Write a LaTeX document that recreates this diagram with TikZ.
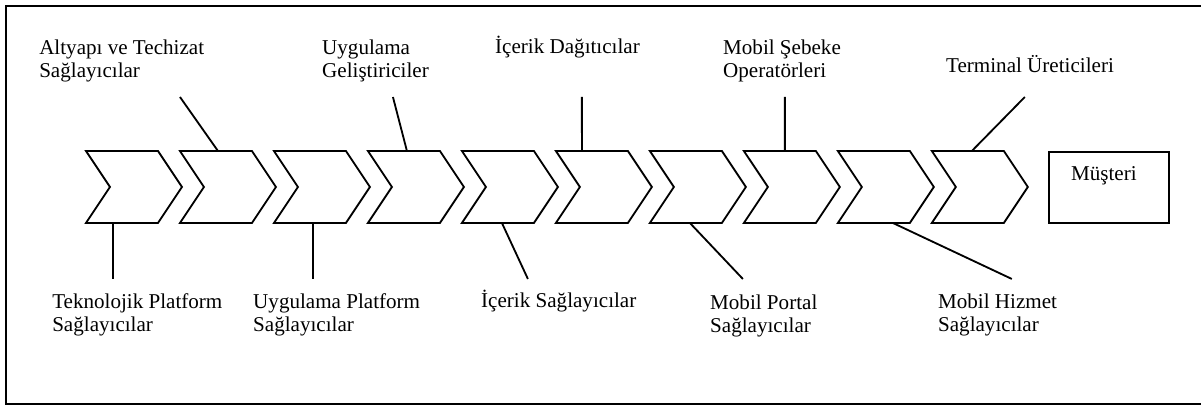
\documentclass[tikz,border=0pt]{standalone}
\usepackage{fontspec}
\setmainfont{Liberation Serif}
\tikzset{
  chevron/.style={line width=1.3pt, line join=miter},
  link/.style={line width=1.3pt},
  lbl/.style={anchor=base west, align=left, inner sep=0pt, font=\fontsize{15}{16.4}\selectfont},
}

\begin{document}
\begin{tikzpicture}
\useasboundingbox (0,0) rectangle (30.03,-10.15);
% frame, open on the right
\draw[line width=1.3pt] (30.03,-0.15) -- (0.15,-0.15) -- (0.15,-10.1) -- (30.03,-10.1);

% chain of chevrons
\foreach \i in {1,...,10}
  \draw[chevron] ({2.15+2.35*(\i-1)},-3.775) coordinate (chv\i) -- ++(1.8,0) -- ++(0.6,-0.9)
    -- ++(-0.6,-0.9) -- ++(-1.8,0) -- ++(0.6,0.9) -- cycle;

\node[draw, line width=1.3pt, minimum width=3cm, minimum height=1.775cm] (musteri) at (27.725,-4.69) {};
\node[lbl] (musteri-txt) at (26.775,-4.525) {Müşteri};

% labels above (base = last line)
\node[lbl] (altyapi) at (0.975,-1.95) {Altyapı ve Techizat\\Sağlayıcılar};
\node[lbl] (gelistirici) at (8.05,-1.95) {Uygulama\\Geliştiriciler};
\node[lbl] (dagitici) at (12.375,-1.35) {İçerik Dağıtıcılar};
\node[lbl] (sebeke) at (18.075,-1.95) {Mobil Şebeke\\Operatörleri};
\node[lbl] (terminal) at (23.65,-1.825) {Terminal Üreticileri};

% labels below
\node[lbl] (teknoloji) at (1.3,-8.3) {Teknolojik Platform\\Sağlayıcılar};
\node[lbl] (platform) at (6.325,-8.3) {Uygulama Platform\\Sağlayıcılar};
\node[lbl] (icerik) at (12.025,-7.7) {İçerik Sağlayıcılar};
\node[lbl] (portal) at (17.75,-8.325) {Mobil Portal\\Sağlayıcılar};
\node[lbl] (hizmet) at (23.45,-8.3) {Mobil Hizmet\\Sağlayıcılar};

% free ends of the lines
\coordinate (altyapi-end) at (4.5,-2.425);
\coordinate (gelistirici-end) at (9.825,-2.425);
\coordinate (dagitici-end) at (14.55,-2.425);
\coordinate (sebeke-end) at (19.625,-2.425);
\coordinate (terminal-end) at (25.625,-2.425);
\coordinate (teknoloji-end) at (2.825,-6.975);
\coordinate (platform-end) at (7.825,-6.975);
\coordinate (icerik-end) at (13.2,-6.975);
\coordinate (portal-end) at (18.575,-6.975);
\coordinate (hizmet-end) at (25.3,-6.975);

\draw[link] (altyapi-end) -- ([xshift=0.95cm]chv2);
\draw[link] (gelistirici-end) -- ([xshift=0.975cm]chv4);
\draw[link] (dagitici-end) -- ([xshift=0.65cm]chv6);
\draw[link] (sebeke-end) -- ([xshift=1.025cm]chv8);
\draw[link] (terminal-end) -- ([xshift=1cm]chv10);
\draw[link] ([shift={(0.675,-1.8)}]chv1) -- (teknoloji-end);
\draw[link] ([shift={(0.975,-1.8)}]chv3) -- (platform-end);
\draw[link] ([shift={(1,-1.8)}]chv5) -- (icerik-end);
\draw[link] ([shift={(1,-1.8)}]chv7) -- (portal-end);
\draw[link] ([shift={(1.375,-1.8)}]chv9) -- (hizmet-end);
\end{tikzpicture}
\end{document}
